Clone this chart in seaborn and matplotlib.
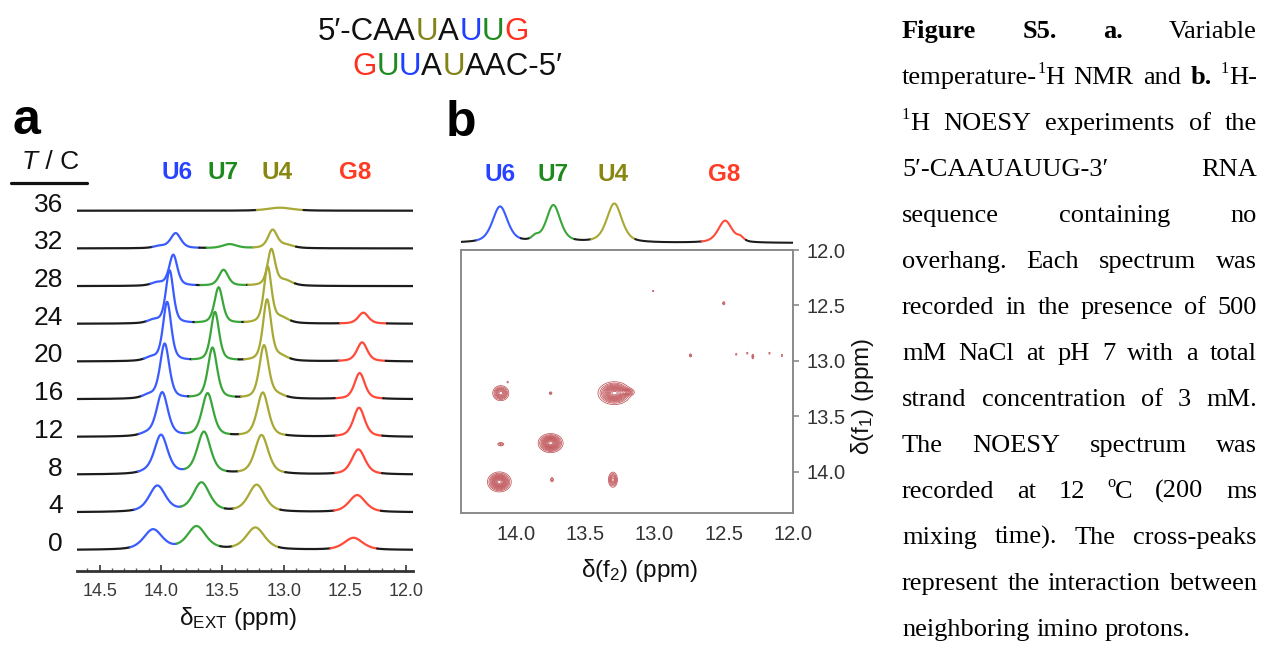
import numpy as np
import pandas as pd
import matplotlib
matplotlib.use("Agg")
import matplotlib.pyplot as plt
import seaborn as sns
from matplotlib.ticker import MultipleLocator, FormatStrFormatter
from matplotlib.lines import Line2D

sns.set_style("white")
plt.rcParams["font.family"] = ["Liberation Sans", "DejaVu Sans"]
plt.rcParams["mathtext.fontset"] = "custom"
plt.rcParams["mathtext.rm"] = "Liberation Sans"
plt.rcParams["mathtext.it"] = "Liberation Sans:italic"
plt.rcParams["mathtext.bf"] = "Liberation Sans:bold"
plt.rcParams["text.color"] = "#111111"

# ---------------- data: panel a (variable-temperature 1H NMR) ----------------
temps = [0, 4, 8, 12, 16, 20, 24, 28, 32, 36]
peak_names = ["U6", "U7", "U4", "G8"]
u6_ppm = [14.065, 14.03, 14.00, 13.99, 13.97, 13.95, 13.93, 13.90, 13.88, np.nan]
u6_int = [20, 26, 39, 44, 55, 59, 53, 31, 15, 0]
u6_hw = [0.09, 0.08, 0.065, 0.055, 0.045, 0.04, 0.037, 0.04, 0.05, 0.05]
u7_ppm = [13.71, 13.67, 13.65, 13.62, 13.58, 13.56, 13.53, 13.49, 13.44, np.nan]
u7_int = [23, 29, 42, 43, 51, 49, 36, 16, 4, 0]
u7_hw = [0.09, 0.08, 0.065, 0.055, 0.045, 0.04, 0.04, 0.045, 0.07, 0.05]
u4_ppm = [13.23, 13.22, 13.18, 13.17, 13.16, 13.135, 13.13, 13.10, 13.09, 13.03]
u4_int = [22, 27, 39, 44, 53, 61, 56, 36, 18, 3]
u4_hw = [0.09, 0.08, 0.065, 0.055, 0.045, 0.04, 0.037, 0.037, 0.045, 0.12]
g8_ppm = [12.43, 12.40, 12.39, 12.385, 12.38, 12.36, 12.35, np.nan, np.nan, np.nan]
g8_int = [12, 17, 25, 29, 26, 19, 11, 0, 0, 0]
g8_hw = [0.09, 0.08, 0.065, 0.055, 0.05, 0.05, 0.05, 0.05, 0.05, 0.05]
u6_shoulder_int = [0, 0, 1, 2, 3, 3, 3, 3, 2, 0]
u4_shoulder_int = [0, 0, 0, 0, 3, 4, 5, 5, 3, 0]

# ---------------- data: panel b (NOESY) ----------------
noesy_ppm = [14.115, 13.73, 13.29, 12.49]
noesy_int = [36, 37, 39, 22]
noesy_hw = [0.065, 0.06, 0.065, 0.06]
noesy_sh_ppm = [13.86, 12.38]
noesy_sh_int = [4, 4]
cp_f2 = [14.12, 13.75, 13.29, 14.11, 13.30, 13.74, 14.11, 13.75, 12.50, 13.01,
         12.74, 12.41, 12.33, 12.29, 12.17, 12.08, 14.06, 13.20]
cp_f1 = [14.09, 13.74, 13.29, 13.29, 14.07, 14.07, 13.75, 13.29, 12.48, 12.37,
         12.95, 12.94, 12.93, 12.96, 12.93, 12.95, 13.19, 13.28]
cp_amp = [1.0, 1.0, 1.0, 0.65, 0.5, 0.22, 0.25, 0.2, 0.2, 0.15,
          0.2, 0.15, 0.15, 0.2, 0.15, 0.15, 0.15, 0.35]
cp_sx = [0.04, 0.042, 0.055, 0.03, 0.018, 0.008, 0.016, 0.008, 0.007, 0.006,
         0.007, 0.005, 0.005, 0.006, 0.005, 0.005, 0.005, 0.03]
cp_sy = [0.042, 0.04, 0.048, 0.035, 0.038, 0.015, 0.011, 0.01, 0.012, 0.006,
         0.012, 0.01, 0.01, 0.018, 0.01, 0.012, 0.008, 0.018]

label_colors = {"U6": "#2743ff", "U7": "#1e8a1e", "U4": "#878712", "G8": "#ff3b24"}
line_colors = {"base": "#1c1c1c", "U6": "#3a5cff", "U7": "#3aa63a",
               "U4": "#a8a835", "G8": "#ff4a3a"}

# sequence text (two strands) with per-letter colour keys
seq_top = [("5′-CAA", "k"), ("U", "U4"), ("A", "k"), ("U", "U6"), ("U", "U7"), ("G", "G8")]
seq_bot = [("G", "G8"), ("U", "U7"), ("U", "U6"), ("A", "k"), ("U", "U4"), ("AAC-5′", "k")]
seq_colors = {"k": "#111111", "U4": "#83831a", "U6": "#2040ff", "U7": "#1f8a1f", "G8": "#ff3020"}

caption = [
    "*Figure *S5. *a. Variable",
    "temperature-^1H NMR and *b. ^1H-",
    "^1H NOESY experiments of the",
    "5′-CAAUAUUG-3′ RNA",
    "sequence containing no",
    "overhang. Each spectrum was",
    "recorded in the presence of 500",
    "mM NaCl at pH 7 with a total",
    "strand concentration of 3 mM.",
    "The NOESY spectrum was",
    "recorded at 12 ^oC (200 ms",
    "mixing time). The cross-peaks",
    "represent the interaction between",
    "neighboring imino protons.",
]

# ---------------- helpers ----------------
W, H = 1262, 659
fig = plt.figure(figsize=(W / 100, H / 100), dpi=100)
R = fig.canvas.get_renderer()


def ftext(x, y, s, **kw):
    return fig.text(x / W, 1 - y / H, s, **kw)


def tw(s, **kw):
    t = fig.text(0, 0, s, **kw)
    w = t.get_window_extent(renderer=R).width
    t.remove()
    return w


def peak(x, pos, h, hw):
    if h <= 0 or np.isnan(pos):
        return np.zeros_like(x)
    lor = 1.0 / (1.0 + ((x - pos) / hw) ** 2)
    sig = hw / np.sqrt(2 * np.log(2))
    gau = np.exp(-0.5 * ((x - pos) / sig) ** 2)
    return h * (0.5 * lor + 0.5 * gau)


def segments(x, y, keys):
    parts, pal = [], {}
    n = len(x)
    start, rid = 0, 0
    for i in range(1, n + 1):
        if i == n or keys[i] != keys[start]:
            end = min(i + 1, n)
            name = f"r{rid}"
            pal[name] = line_colors[keys[start]]
            parts.append(pd.DataFrame({"x": x[start:end], "y": y[start:end], "run": name}))
            rid += 1
            start = i
    return pd.concat(parts, ignore_index=True), pal


def draw_spectrum(ax, x, y, centres, lo, hi, lw):
    keys = np.array(["base"] * len(x), dtype=object)
    for name, c in centres:
        if c is None or np.isnan(c):
            continue
        m = (x <= c + hi) & (x >= c - lo) & (keys == "base")
        keys[m] = name
    df, pal = segments(x, y, keys)
    sns.lineplot(data=df, x="x", y="y", hue="run", palette=pal, estimator=None,
                 sort=False, legend=False, linewidth=lw, ax=ax)


# ---------------- panel a ----------------
axA = fig.add_axes([77 / W, 1 - 571 / H, 336 / W, 421 / H])
axA.patch.set_alpha(0)
xa = np.linspace(14.685, 11.945, 900)
row_gap = 37.7
for i, T in enumerate(temps):
    off = 21 + row_gap * i
    y = np.full_like(xa, off)
    y += peak(xa, u6_ppm[i], u6_int[i], u6_hw[i])
    y += peak(xa, u6_ppm[i] + 0.13 if not np.isnan(u6_ppm[i]) else np.nan, u6_shoulder_int[i], 0.06)
    y += peak(xa, u7_ppm[i], u7_int[i], u7_hw[i])
    y += peak(xa, u4_ppm[i], u4_int[i], u4_hw[i])
    y += peak(xa, u4_ppm[i] - 0.11, u4_shoulder_int[i], 0.07)
    y += peak(xa, g8_ppm[i], g8_int[i], g8_hw[i])
    centres = []
    for name, p, h in [("U6", u6_ppm[i], u6_int[i]), ("U7", u7_ppm[i], u7_int[i]),
                       ("U4", u4_ppm[i], u4_int[i]), ("G8", g8_ppm[i], g8_int[i])]:
        if h > 0:
            centres.append((name, p))
    draw_spectrum(axA, xa, y, centres, 0.19, 0.19, 1.6)
    ftext(63, 571 - off - 6, str(T), fontsize=19, ha="right", va="center", color="#111")

axA.set_xlim(14.685, 11.945)
axA.set_ylim(0, 421)
axA.set_xlabel("")
axA.set_ylabel("")
axA.set_yticks([])
for s in ["left", "right", "top"]:
    axA.spines[s].set_visible(False)
axA.spines["bottom"].set_linewidth(2)
axA.spines["bottom"].set_color("#333333")
axA.xaxis.set_major_locator(MultipleLocator(0.5))
axA.xaxis.set_minor_locator(MultipleLocator(0.1))
axA.xaxis.set_major_formatter(FormatStrFormatter("%.1f"))
axA.tick_params(axis="x", which="major", direction="in", length=4, width=1.2,
                color="#333333", labelsize=13, labelcolor="#3a3a3a", pad=9, bottom=True)
axA.tick_params(axis="x", which="minor", direction="in", length=2, width=1,
                color="#555555", bottom=True)

ftext(238, 618, "δ$_{\\mathrm{EXT}}$ (ppm)", fontsize=17.5, ha="center", va="center", color="#111")

# T / C header
xcur = 22
for s, style in [("T", "italic"), (" / C", "normal")]:
    ftext(xcur, 169, s, fontsize=19, style=style, ha="left", va="baseline", color="#111")
    xcur += tw(s, fontsize=19, style=style)
fig.add_artist(Line2D([11 / W, 87 / W], [1 - 183 / H, 1 - 183 / H], lw=2.3, color="#111"))

for name, xp in zip(peak_names, [177, 223, 277, 355]):
    ftext(xp, 173, name, fontsize=17.5, fontweight="bold", ha="center", va="center",
          color=label_colors[name])

ftext(12, 134, "a", fontsize=36, fontweight="bold", ha="left", va="baseline", color="black")
ftext(446, 136, "b", fontsize=36, fontweight="bold", ha="left", va="baseline", color="black")

# ---------------- panel b ----------------
xlim_b = (14.397, 12.0)
axT = fig.add_axes([461 / W, 1 - 250 / H, 332 / W, 60 / H])
axT.axis("off")
xb = np.linspace(xlim_b[0], xlim_b[1], 700)
yb = np.full_like(xb, 7.0)
for p, h, hw in zip(noesy_ppm, noesy_int, noesy_hw):
    yb += peak(xb, p, h, hw)
for p, h in zip(noesy_sh_ppm, noesy_sh_int):
    yb += peak(xb, p, h, 0.03)
draw_spectrum(axT, xb, yb, list(zip(peak_names, noesy_ppm)), 0.15, 0.17, 1.5)
axT.set_xlim(*xlim_b)
axT.set_ylim(0, 60)

for name, xp in zip(peak_names, [500, 553, 613, 724]):
    ftext(xp, 175, name, fontsize=17.5, fontweight="bold", ha="center", va="center",
          color=label_colors[name])

axB = fig.add_axes([461 / W, 1 - 513 / H, 332 / W, 263 / H])
gx = np.linspace(14.4, 12.0, 900)
gy = np.linspace(12.0, 14.4, 900)
GX, GY = np.meshgrid(gx, gy)
Z = np.zeros_like(GX)
for f2, f1, a, sx, sy in zip(cp_f2, cp_f1, cp_amp, cp_sx, cp_sy):
    Z += a * np.exp(-0.5 * (((GX - f2) / sx) ** 2 + ((GY - f1) / sy) ** 2))
axB.contour(GX, GY, Z, levels=np.linspace(0.1, 0.95, 13),
            colors="#bf5257", linewidths=0.55)
axB.set_xlim(*xlim_b)
axB.set_ylim(14.37, 12.0)
for s in axB.spines.values():
    s.set_color("#8a8a8a")
    s.set_linewidth(1.4)
axB.xaxis.set_major_locator(MultipleLocator(0.5))
axB.yaxis.set_major_locator(MultipleLocator(0.5))
axB.xaxis.set_major_formatter(FormatStrFormatter("%.1f"))
axB.yaxis.set_major_formatter(FormatStrFormatter("%.1f"))
axB.yaxis.tick_right()
axB.tick_params(axis="x", length=0, labelsize=14.5, labelcolor="#333333", pad=9)
axB.tick_params(axis="y", which="major", direction="out", length=4, width=1.2,
                color="#8a8a8a", labelsize=14.5, labelcolor="#333333", pad=6,
                right=True, left=False)
ftext(640, 571, "δ(f$_2$) (ppm)", fontsize=17.5, ha="center", va="center", color="#111")
ftext(863, 396, "δ(f$_1$) (ppm)", fontsize=17.5, ha="center", va="center",
      rotation=90, color="#111")

# ---------------- sequence ----------------
for runs, x0, yb0 in [(seq_top, 318, 40), (seq_bot, 352, 75)]:
    xc = x0
    for s, ck in runs:
        ftext(xc, yb0, s, fontsize=22.5, ha="left", va="baseline", color=seq_colors[ck])
        xc += tw(s, fontsize=22.5)

# ---------------- caption (justified) ----------------
serif = ["Liberation Serif", "DejaVu Serif"]
cap_fs = 10 * 288 / tw(caption[-1], fontsize=10, family=serif)
x_left, x_right = 902, 1257
sup_rise = 0.40 * cap_fs * 100 / 72


def parse_word(w):
    bold = w.startswith("*")
    if bold:
        w = w[1:]
    segs, buf, i = [], "", 0
    while i < len(w):
        if w[i] == "^" and i + 1 < len(w):
            if buf:
                segs.append((buf, "b" if bold else "n"))
                buf = ""
            segs.append((w[i + 1], "s"))
            i += 2
        else:
            buf += w[i]
            i += 1
    if buf:
        segs.append((buf, "b" if bold else "n"))
    return segs


def seg_kw(style):
    if style == "b":
        return dict(fontsize=cap_fs, fontweight="bold", family=serif)
    if style == "s":
        return dict(fontsize=cap_fs * 0.62, family=serif)
    return dict(fontsize=cap_fs, family=serif)


for li, line in enumerate(caption):
    base_y = 38 + 46 * li
    words = [parse_word(w) for w in line.split(" ")]
    widths = [sum(tw(s, **seg_kw(st)) for s, st in wd) for wd in words]
    if li == len(caption) - 1 or len(words) == 1:
        gap = tw("a a", **seg_kw("n")) - tw("aa", **seg_kw("n"))
    else:
        gap = (x_right - x_left - sum(widths)) / (len(words) - 1)
    xc = x_left
    for wd, wdw in zip(words, widths):
        xs = xc
        for s, st in wd:
            yy = base_y - (sup_rise if st == "s" else 0)
            ftext(xs, yy, s, ha="left", va="baseline", color="black", **seg_kw(st))
            xs += tw(s, **seg_kw(st))
        xc += wdw + gap

fig.savefig("out.png", dpi=100)
